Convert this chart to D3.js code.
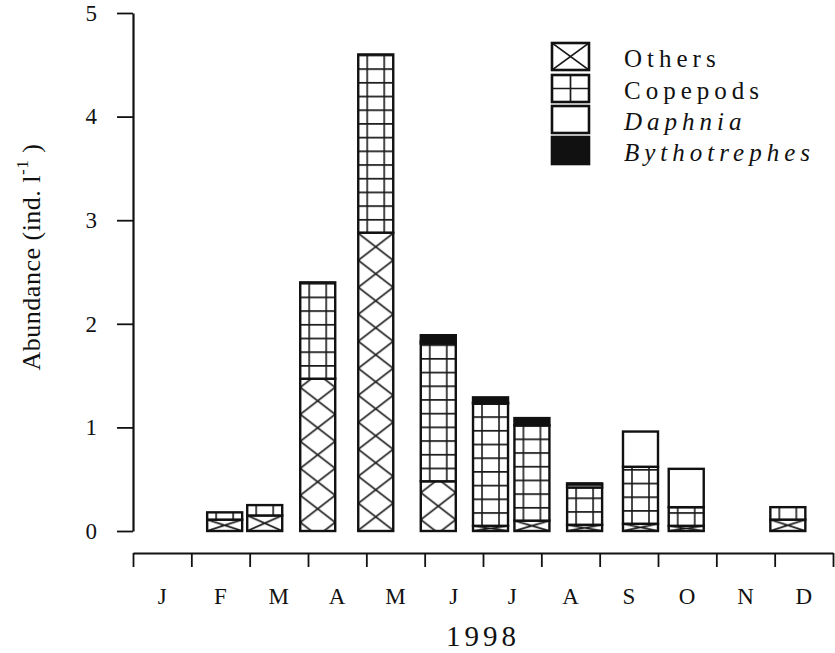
<!DOCTYPE html>
<html>
<head>
<meta charset="utf-8">
<script src="https://d3js.org/d3.v7.min.js"></script>
<style>
  body { margin: 0; background: #fff; }
  text { font-family: "Liberation Serif", "Times New Roman", serif; fill: #111; }
</style>
</head>
<body>
<div id="chart"></div>
<script>
// month labels for the x axis (one per month of 1998)
const months = ['J', 'F', 'M', 'A', 'M', 'J', 'J', 'A', 'S', 'O', 'N', 'D'];
// sampling dates (bar positions)
const sampleDates = ['1998-02-17', '1998-03-09', '1998-04-06', '1998-05-06', '1998-06-08',
  '1998-07-05', '1998-07-27', '1998-08-24', '1998-09-22', '1998-10-16', '1998-12-08'];
// abundance (ind. l-1) per group, stacked bottom to top
const others = [0.11, 0.15, 1.47, 2.88, 0.48, 0.05, 0.10, 0.06, 0.07, 0.05, 0.11];
const copepods = [0.07, 0.10, 0.93, 1.72, 1.33, 1.18, 0.92, 0.36, 0.55, 0.18, 0.12];
const daphnia = [0, 0, 0, 0, 0.02, 0.01, 0, 0.03, 0.34, 0.37, 0];
const bythotrephes = [0, 0, 0, 0, 0.06, 0.05, 0.07, 0.01, 0, 0, 0];
const yTicks = [0, 1, 2, 3, 4, 5];
const groups = ['Others', 'Copepods', 'Daphnia', 'Bythotrephes'];

const width = 835, height = 653;
const barW = 35;

const svg = d3.select('#chart').append('svg')
  .attr('width', width).attr('height', height);
const defs = svg.append('defs');

// sampling date -> fractional month position (0 = 1 Jan, 12 = 1 Jan next year)
const parse = d3.timeParse('%Y-%m-%d');
function monthPos(s) {
  const dt = parse(s);
  const start = d3.timeMonth.floor(dt);
  const days = d3.timeDay.count(start, d3.timeMonth.offset(start, 1));
  return dt.getMonth() + (dt.getDate() - 1) / days;
}

const x = d3.scaleLinear().domain([0, 12]).range([133, 833]);
const y = d3.scaleLinear().domain([0, 5]).range([531, 13]);

// build the stacked table
const table = sampleDates.map((d, i) => ({
  pos: monthPos(d),
  Others: others[i], Copepods: copepods[i], Daphnia: daphnia[i], Bythotrephes: bythotrephes[i]
}));
const series = d3.stack().keys(groups)(table);

// y axis
const yAxis = svg.append('g')
  .attr('transform', 'translate(133,0)')
  .call(d3.axisLeft(y).tickValues(yTicks).tickFormat(d3.format('d'))
    .tickSize(16).tickSizeOuter(0).tickPadding(20));
yAxis.select('.domain').attr('stroke', '#111').attr('stroke-width', 2.2);
yAxis.selectAll('.tick line').attr('stroke', '#111').attr('stroke-width', 1.8);
yAxis.selectAll('.tick text').attr('font-size', 23)
  .attr('font-family', '"Liberation Serif", serif').attr('fill', '#111');

// x axis (month boundaries)
const xAxis = svg.append('g')
  .attr('transform', 'translate(0,553)')
  .call(d3.axisBottom(x).tickValues(d3.range(13)).tickFormat('')
    .tickSize(14).tickSizeOuter(0));
xAxis.select('.domain').attr('stroke', '#111').attr('stroke-width', 2.2);
xAxis.selectAll('.tick line').attr('stroke', '#111').attr('stroke-width', 1.8);

svg.append('g').selectAll('text')
  .data(months)
  .enter().append('text')
  .attr('x', (d, i) => x(i + 0.5))
  .attr('y', 604)
  .attr('text-anchor', 'middle')
  .attr('font-size', 23)
  .text(d => d);

svg.append('text')
  .attr('x', 483).attr('y', 646)
  .attr('text-anchor', 'middle')
  .attr('font-size', 29)
  .attr('letter-spacing', 4)
  .text('1998');

// y label with superscript
const yl = svg.append('text')
  .attr('transform', 'translate(40,257) rotate(-90)')
  .attr('text-anchor', 'middle')
  .attr('font-size', 26)
  .attr('letter-spacing', 0.5);
yl.append('tspan').text('Abundance (ind. l');
yl.append('tspan').attr('dy', -12).attr('font-size', 17).text('-1');
yl.append('tspan').attr('dy', 12).text(' )');

// patterns
let pid = 0;
function crossPattern(x0, y0, w, h) {
  const id = 'cross' + (pid++);
  const p = defs.append('pattern').attr('id', id)
    .attr('patternUnits', 'userSpaceOnUse')
    .attr('x', x0).attr('y', y0).attr('width', w).attr('height', h);
  p.append('path')
    .attr('d', `M0,0L${w},${h}M${w},0L0,${h}`)
    .attr('stroke', '#1a1a1a').attr('stroke-width', 1.7).attr('fill', 'none');
  return id;
}
function gridPattern(x0, y0, w, h, vx) {
  const id = 'grid' + (pid++);
  const p = defs.append('pattern').attr('id', id)
    .attr('patternUnits', 'userSpaceOnUse')
    .attr('x', x0).attr('y', y0).attr('width', w).attr('height', h);
  p.append('rect').attr('width', w).attr('height', h).attr('fill', '#fff');
  p.append('path')
    .attr('d', vx.map(v => `M${v},0V${h}`).join('') + `M0,0.8H${w}`)
    .attr('stroke', '#1a1a1a').attr('stroke-width', 1.6).attr('fill', 'none');
  return id;
}

function fillFor(key, x0, yTop, yBot) {
  const h = yBot - yTop;
  if (key === 'Others') {
    const th = Math.min(27, Math.max(h, 4));
    return `url(#${crossPattern(x0, (yTop + yBot) / 2 - th / 2, barW, th)})`;
  }
  if (key === 'Copepods') {
    return `url(#${gridPattern(x0, yBot, barW, 13.7, [9, 26])})`;
  }
  if (key === 'Daphnia') return '#fff';
  return '#111';
}

// bars
const barG = svg.append('g');
series.forEach(s => {
  s.forEach(d => {
    if (d[1] - d[0] <= 0) return;
    const x0 = x(d.data.pos) - barW / 2;
    const yTop = y(d[1]), yBot = y(d[0]);
    barG.append('rect')
      .attr('x', x0).attr('y', yTop)
      .attr('width', barW).attr('height', yBot - yTop)
      .attr('fill', fillFor(s.key, x0, yTop, yBot))
      .attr('stroke', '#111').attr('stroke-width', 2.4);
  });
});

// legend
const legY = [43, 75, 106, 137];
const lg = svg.append('g');
groups.forEach((g, i) => {
  const bx = 552, by = legY[i], bw = 37, bh = 27;
  let fill;
  if (g === 'Others') fill = `url(#${crossPattern(bx, by, bw, bh)})`;
  else if (g === 'Copepods') {
    const id = 'legGrid';
    const p = defs.append('pattern').attr('id', id)
      .attr('patternUnits', 'userSpaceOnUse')
      .attr('x', bx).attr('y', by).attr('width', bw).attr('height', bh);
    p.append('rect').attr('width', bw).attr('height', bh).attr('fill', '#fff');
    p.append('path').attr('d', `M${bw / 2},0V${bh}M0,${bh / 2}H${bw}`)
      .attr('stroke', '#1a1a1a').attr('stroke-width', 1.7);
    fill = `url(#${id})`;
  } else if (g === 'Daphnia') fill = '#fff';
  else fill = '#111';
  lg.append('rect')
    .attr('x', bx).attr('y', by).attr('width', bw).attr('height', bh)
    .attr('fill', fill).attr('stroke', '#111').attr('stroke-width', 2.6);
  lg.append('text')
    .attr('x', 624).attr('y', by + 24)
    .attr('font-size', 25)
    .attr('letter-spacing', 5)
    .attr('font-style', (g === 'Daphnia' || g === 'Bythotrephes') ? 'italic' : 'normal')
    .text(g);
});
</script>
</body>
</html>
